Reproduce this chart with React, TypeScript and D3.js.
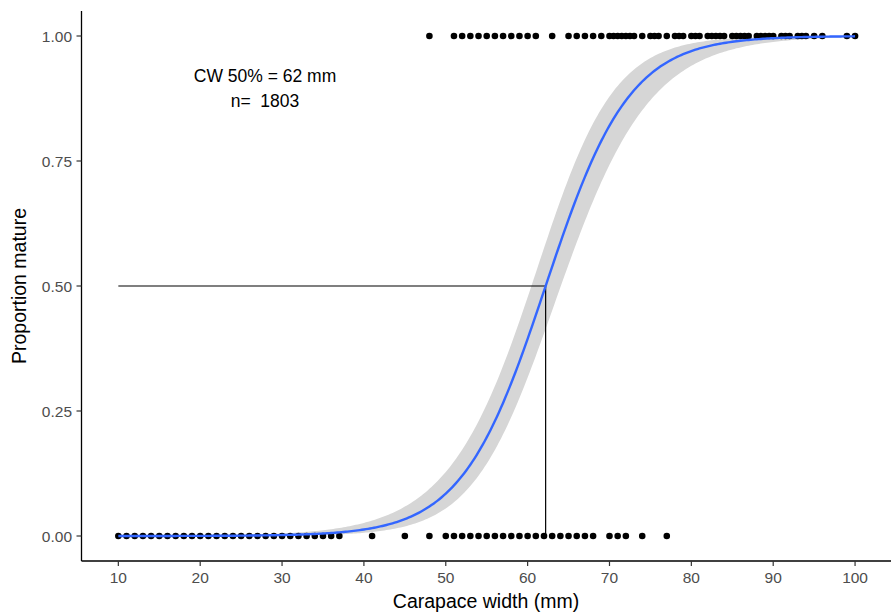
import React from "react";
import * as d3 from "d3";

// Carapace widths (mm) of immature (0) and mature (1) observations
const immatureCW = [
  10, 11, 12, 13, 14, 15, 16, 17, 18, 19, 20, 21, 22, 23, 24, 25, 26, 27, 28, 29,
  30, 31, 32, 33, 34, 35, 36, 37, 41, 45, 48, 50, 51, 52, 53, 54, 55, 56, 57, 58,
  59, 60, 61, 62, 63, 64, 65, 66, 67, 68, 70, 71, 72, 74, 77,
];
const matureCW = [
  48, 51, 52, 53, 54, 55, 56, 57, 58, 59, 60, 61, 63, 65, 66, 67, 68, 69, 70, 70.5,
  71, 71.5, 72, 72.5, 73, 74, 75, 75.5, 76, 77, 78, 78.5, 79, 80, 80.5, 81, 82,
  82.5, 83, 83.5, 84, 85, 85.5, 86, 86.5, 87, 88, 88.5, 89, 89.5, 90, 91, 91.5, 92,
  93, 93.5, 94, 95, 96, 99, 100,
];

// Fitted logistic model (glm, binomial)
const L50 = 62.2;
const slope = 0.195;
const seBase = 0.339 / 1.96;
const seGrowth = 0.0314 / 1.96;
const seCentre = 60;

const xTicks = [10, 20, 30, 40, 50, 60, 70, 80, 90, 100];
const yTicks = [0, 0.25, 0.5, 0.75, 1];
const yTickLabels = ["0.00", "0.25", "0.50", "0.75", "1.00"];

const annotationLines = ["CW 50% = 62 mm", "n=  1803"];
const nObs = 1803;

const W = 891;
const H = 612;
const FONT = "'Liberation Sans', Arial, sans-serif";

export default function App() {
  const x = d3.scaleLinear().domain([5.5, 104.5]).range([81.5, 891.9]);
  const y = d3.scaleLinear().domain([-0.05, 1.05]).range([561, 11]);

  const inv = (eta: number) => 1 / (1 + Math.exp(-eta));
  const grid = d3.range(10, 100.0001, 0.25);
  const fit = grid.map((v) => {
    const eta = slope * (v - L50);
    const se = Math.sqrt(seBase * seBase + (seGrowth * (v - seCentre)) ** 2);
    return { v, p: inv(eta), lo: inv(eta - 1.96 * se), hi: inv(eta + 1.96 * se) };
  });

  const line = d3
    .line<{ v: number; p: number }>()
    .x((d) => x(d.v))
    .y((d) => y(d.p))
    .curve(d3.curveLinear);
  const area = d3
    .area<{ v: number; lo: number; hi: number }>()
    .x((d) => x(d.v))
    .y0((d) => y(d.lo))
    .y1((d) => y(d.hi));

  const x0 = x.range()[0];
  const yBottom = y.range()[0];
  const yTop = y.range()[1];

  return (
    <svg
      width={W}
      height={H}
      style={{ position: "absolute", left: 0, top: 0, background: "#fff" }}
    >
      {/* ribbon */}
      <path d={area(fit) || ""} fill="#D6D6D6" stroke="none" />
      {/* points */}
      {immatureCW.map((v, i) => (
        <circle key={"i" + i} cx={x(v)} cy={y(0)} r={3.3} fill="#000" />
      ))}
      {matureCW.map((v, i) => (
        <circle key={"m" + i} cx={x(v)} cy={y(1)} r={3.3} fill="#000" />
      ))}
      {/* reference lines */}
      <line x1={x(10)} x2={x(L50)} y1={y(0.5)} y2={y(0.5)} stroke="#000" strokeWidth={1.2} />
      <line x1={x(L50)} x2={x(L50)} y1={y(0)} y2={y(0.5)} stroke="#000" strokeWidth={1.2} />
      {/* fitted line */}
      <path d={line(fit) || ""} fill="none" stroke="#3366FF" strokeWidth={2.4} />

      {/* axes */}
      <line x1={x0} x2={x0} y1={yTop} y2={yBottom} stroke="#000" strokeWidth={1.3} />
      <line x1={x0} x2={W} y1={yBottom} y2={yBottom} stroke="#000" strokeWidth={1.3} />
      {yTicks.map((t, i) => (
        <g key={"yt" + i}>
          <line x1={x0 - 5} x2={x0} y1={y(t)} y2={y(t)} stroke="#333" strokeWidth={1.2} />
          <text
            x={x0 - 9.5}
            y={y(t)}
            dy="0.36em"
            textAnchor="end"
            fontFamily={FONT}
            fontSize={15.5}
            fill="#4D4D4D"
          >
            {yTickLabels[i]}
          </text>
        </g>
      ))}
      {xTicks.map((t) => (
        <g key={"xt" + t}>
          <line x1={x(t)} x2={x(t)} y1={yBottom} y2={yBottom + 5} stroke="#333" strokeWidth={1.2} />
          <text
            x={x(t)}
            y={583.3}
            textAnchor="middle"
            fontFamily={FONT}
            fontSize={15.5}
            fill="#4D4D4D"
          >
            {t}
          </text>
        </g>
      ))}
      {/* axis titles */}
      <text x={486} y={608} textAnchor="middle" fontFamily={FONT} fontSize={19.5} fill="#000">
        Carapace width (mm)
      </text>
      <text
        transform={`translate(26,${y(0.5)}) rotate(-90)`}
        textAnchor="middle"
        fontFamily={FONT}
        fontSize={19.5}
        fill="#000"
      >
        Proportion mature
      </text>
      {/* annotation */}
      <text x={265} y={81.5} textAnchor="middle" fontFamily={FONT} fontSize={17.5} fill="#000">
        {annotationLines[0]}
      </text>
      <text x={265} y={106.5} textAnchor="middle" fontFamily={FONT} fontSize={17.5} fill="#000" xmlSpace="preserve">
        {"n=  " + nObs}
      </text>
    </svg>
  );
}
